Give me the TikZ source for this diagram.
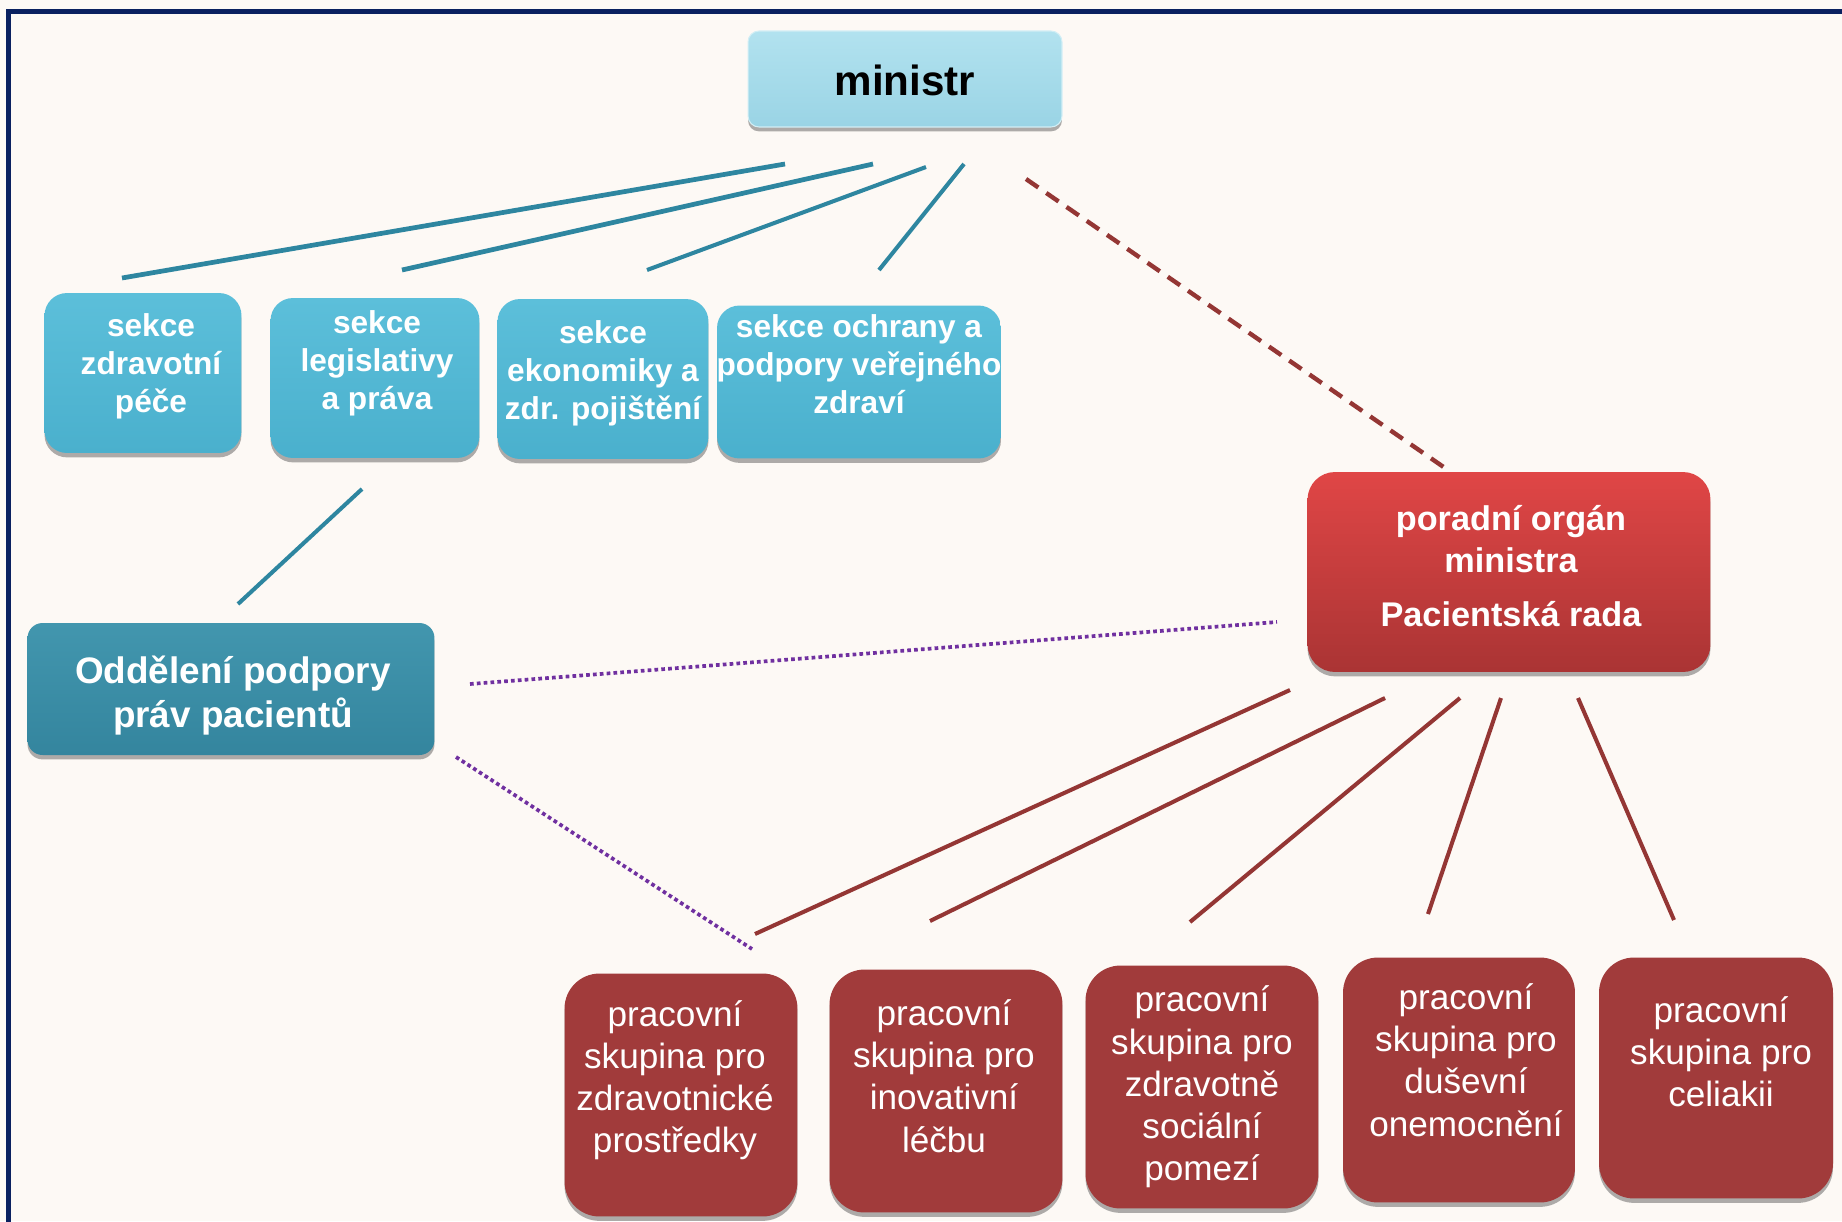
\documentclass[tikz,border=0pt]{standalone}
\usepackage{fontspec}
\setmainfont{Liberation Sans}
\usetikzlibrary{shadows}
\definecolor{pozadi}{HTML}{FDF9F5}
\definecolor{ramec}{HTML}{0A2160}
\definecolor{minTop}{HTML}{B2E2EF}
\definecolor{minBot}{HTML}{9AD4E5}
\definecolor{sekTop}{HTML}{5CBFDA}
\definecolor{sekBot}{HTML}{4AB0CD}
\definecolor{oddTop}{HTML}{4296AE}
\definecolor{oddBot}{HTML}{34859E}
\definecolor{radTop}{HTML}{E04646}
\definecolor{radBot}{HTML}{AA3434}
\definecolor{skup}{HTML}{A13B3B}
\definecolor{modra}{HTML}{2E86A0}
\definecolor{cervena}{HTML}{943634}
\definecolor{fialova}{HTML}{7030A0}

\begin{document}
\begin{tikzpicture}[x=0.02cm,y=-0.02cm,
	box/.style={inner sep=0pt, drop shadow={shadow xshift=0pt, shadow yshift=-2.5pt, opacity=0.45, fill=black!70}},
	ministrbox/.style={box, rounded corners=0.22cm, top color=minTop, bottom color=minBot, draw=minTop!60!white, line width=0.6pt},
	sekcebox/.style={box, rounded corners=0.45cm, top color=sekTop, bottom color=sekBot, minimum height=3.2cm},
	oddbox/.style={box, rounded corners=0.3cm, top color=oddTop, bottom color=oddBot},
	radabox/.style={box, rounded corners=0.55cm, top color=radTop, bottom color=radBot},
	skupbox/.style={box, rounded corners=0.7cm, fill=skup, minimum width=4.66cm, minimum height=4.86cm},
	sekcetext/.style={text=white, font=\bfseries\fontsize{18}{21.6}\selectfont, align=center},
	skuptext/.style={text=white, font=\fontsize{20}{24}\selectfont, align=center},
	vazba/.style={draw=modra, line width=2.3pt},
	rada/.style={draw=cervena, line width=2.3pt},
	tecky/.style={draw=fialova, line width=2.1pt, dash pattern=on 2.1pt off 1.8pt}
]
	\useasboundingbox (0,0) rectangle (1842,1221);
	\fill[pozadi] (0,0) rectangle (1842,1221);
	\draw[ramec, line width=2.8pt] (8.5,1225) -- (8.5,11.5) -- (1846,11.5);

	% ministr a sekce
	\node[ministrbox, minimum width=6.28cm, minimum height=1.92cm] (ministr) at (905,79) {};
	\node[font=\bfseries\fontsize{24}{28}\selectfont] (ministrtext) at (905,80) {ministr};

	\node[sekcebox, minimum width=3.94cm] (s1) at (143,373) {};
	\node[sekcetext] at (151,366) {sekce\\zdravotní\\péče};
	\node[sekcebox, minimum width=4.18cm] (s2) at (375,378) {};
	\node[sekcetext] at (377,363) {sekce\\legislativy\\a práva};
	\node[sekcebox, minimum width=4.22cm] (s3) at (603,379) {};
	\node[sekcetext] at (603,373) {sekce\\ekonomiky a\\zdr. pojištění};
	\node[sekcebox, minimum width=5.68cm, minimum height=3.06cm] (s4) at (859,382) {};
	\node[sekcetext] at (859,364) {sekce ochrany a\\podpory veřejného\\zdraví};

	\node[oddbox, minimum width=8.14cm, minimum height=2.64cm] (odd) at (231,689) {};
	\node[text=white, font=\bfseries\fontsize{21}{25}\selectfont, align=center] at (233,696) {Oddělení podpory\\práv pacientů};

	% poradni organ
	\node[radabox, minimum width=8.06cm, minimum height=4cm] (rada) at (1509,572) {};
	\node[text=white, font=\bfseries\fontsize{19.5}{24}\selectfont, align=center] at (1511,566) {poradní orgán\\ministra\\[7pt]Pacientská rada};

	% pracovni skupiny
	\node[skupbox] (w1) at (681,1095) {};
	\node[skuptext] at (675,1080) {pracovní\\skupina pro\\zdravotnické\\prostředky};
	\node[skupbox] (w2) at (946,1091) {};
	\node[skuptext] at (944,1076) {pracovní\\skupina pro\\inovativní\\léčbu};
	\node[skupbox] (w3) at (1202,1087) {};
	\node[skuptext] at (1202,1087) {pracovní\\skupina pro\\zdravotně\\sociální\\pomezí};
	\node[skupbox, minimum width=4.64cm, minimum height=4.9cm] (w4) at (1459,1080) {};
	\node[skuptext] at (1466,1060) {pracovní\\skupina pro\\duševní\\onemocnění};
	\node[skupbox, minimum width=4.68cm, minimum height=4.82cm] (w5) at (1716,1078) {};
	\node[skuptext] at (1721,1052) {pracovní\\skupina pro\\celiakii};

	% konce car
	\coordinate (m1) at (785,164);
	\coordinate (m2) at (873,164);
	\coordinate (m3) at (926,167);
	\coordinate (m4) at (964,164);
	\coordinate (t1) at (122,278);
	\coordinate (t2) at (402,270);
	\coordinate (t3) at (647,270);
	\coordinate (t4) at (879,270);
	\coordinate (r0) at (1026,179);
	\coordinate (r1) at (1445,468);
	\coordinate (l1) at (362,489);
	\coordinate (l2) at (238,604);
	\coordinate (p1) at (470,684);
	\coordinate (p2) at (1277,622);
	\coordinate (p3) at (456,757);
	\coordinate (p4) at (752,949);
	\coordinate (a1) at (1290,690);
	\coordinate (a2) at (1385,698);
	\coordinate (a3) at (1460,698);
	\coordinate (a4) at (1501,698);
	\coordinate (a5) at (1578,698);
	\coordinate (b1) at (755,934);
	\coordinate (b2) at (930,921);
	\coordinate (b3) at (1190,922);
	\coordinate (b4) at (1428,914);
	\coordinate (b5) at (1674,920);

	\draw[vazba, line width=2.7pt] (m1) -- (t1);
	\draw[vazba, line width=2.7pt] (m2) -- (t2);
	\draw[vazba] (m3) -- (t3);
	\draw[vazba] (m4) -- (t4);
	\draw[vazba] (l1) -- (l2);
	\draw[cervena, line width=2.5pt, dash pattern=on 8.5pt off 5.5pt] (r0) -- (r1);
	\draw[tecky] (p1) -- (p2);
	\draw[tecky] (p3) -- (p4);
	\draw[rada] (a1) -- (b1);
	\draw[rada] (a2) -- (b2);
	\draw[rada] (a3) -- (b3);
	\draw[rada] (a4) -- (b4);
	\draw[rada] (a5) -- (b5);
\end{tikzpicture}
\end{document}
